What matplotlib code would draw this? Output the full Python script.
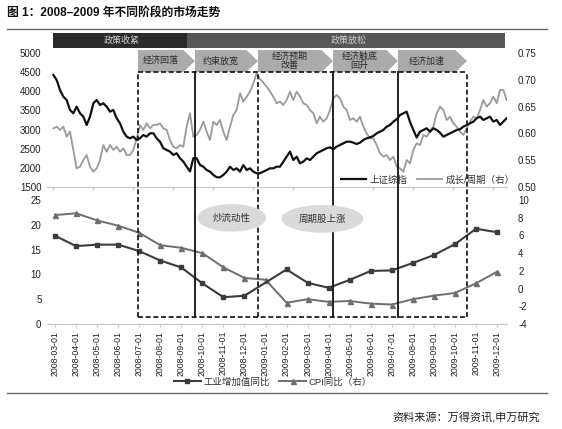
import numpy as np
import matplotlib
matplotlib.use("Agg")
import matplotlib.pyplot as plt
from matplotlib import transforms
from matplotlib.lines import Line2D
from matplotlib.patches import Polygon, Rectangle

plt.rcParams['font.family'] = ['Liberation Sans', 'Noto Sans CJK SC', 'DejaVu Sans']
plt.rcParams['axes.unicode_minus'] = False

# ---- data: top panel (~5 days apart) ----
SSE = [4431, 4300, 4037, 3862, 3775, 3513, 3426, 3600, 3426, 3338,
       3119, 3338, 3688, 3775, 3644, 3688, 3600, 3468, 3513, 3295,
       3164, 2944, 2813, 2770, 2813, 2726, 2770, 2857, 2813, 2901,
       2901, 2770, 2681, 2508, 2464, 2420, 2333, 2377, 2245, 2157,
       2025, 1900, 2250, 2245,
       2070, 2025, 1939, 1895, 1808, 1747, 1747, 1808, 1895, 2025,
       1939, 1982, 1895, 2070, 1939, 1982, 1895, 1852, 1852, 1895,
       1939, 1982, 1982, 2025, 2025, 2157, 2288, 2420, 2200, 2288,
       2114, 2157, 2245, 2200, 2288, 2377, 2420, 2464, 2508, 2534,
       2482, 2551, 2595, 2639, 2681,
       2681, 2655, 2620, 2655, 2726, 2770, 2795, 2830, 2901, 2944,
       2988, 3075, 3119, 3206, 3268, 3381, 3426, 3468, 3200, 2990,
       2790, 2944, 2988, 3032, 2944, 3032, 2988, 2918, 2813, 2857,
       2901, 2944, 2988, 3006, 3075, 3119, 3164, 3206, 3295, 3338,
       3251, 3295, 3338, 3206, 3251, 3119, 3206, 3295]

GROWTH_CYCLE = [.6094, .6125, .6063, .6125, .5937, .6031, .5688, .5344, .5375, .5500,
                .5594, .5375, .5281, .5344, .5500, .5781, .5656, .5781, .5688, .5750,
                .5656, .5719, .5594, .5594, .5688, .5906, .6156, .6063, .6188, .6094,
                .6156, .6156, .6188, .6094, .6063, .5875, .5750, .5719, .5781, .5750,
                .6125, .6375, .5937, .5969,
                .6063, .6219, .6031, .5875, .6219, .6156, .6250, .6031, .5875, .6125,
                .6344, .6438, .6750, .6594, .6688, .6781, .6938, .7125, .7020, .6950,
                .6875, .6781, .6688, .6563, .6594, .6531, .6625, .6781, .6625, .6781,
                .6688, .6563, .6531, .6438, .6375, .6188, .6313, .6219, .6281, .6438,
                .6656, .6719, .6656, .6500, .6438,
                .6250, .6281, .6219, .6313, .6125, .6000, .5906, .5906, .5781, .5625,
                .5563, .5594, .5500, .5563, .5375, .5344, .5281, .5500, .5438, .5688,
                .5813, .5781, .5969, .5937, .6031, .6125, .6375, .6500, .6438, .6250,
                .6313, .6188, .6125, .6031, .5969, .6094, .6219, .6313, .6281, .6438,
                .6625, .6500, .6563, .6688, .6563, .6813, .6813, .6625]

# ---- data: bottom panel (monthly) ----
MONTHS = ["2008-03-01", "2008-04-01", "2008-05-01", "2008-06-01", "2008-07-01",
          "2008-08-01", "2008-09-01", "2008-10-01", "2008-11-01", "2008-12-01",
          "2009-01-01", "2009-02-01", "2009-03-01", "2009-04-01", "2009-05-01",
          "2009-06-01", "2009-07-01", "2009-08-01", "2009-09-01", "2009-10-01",
          "2009-11-01", "2009-12-01"]
IND_VALUE_ADDED = [17.8, 15.7, 16.0, 16.0, 14.7, 12.8, 11.4, 8.2, 5.4, 5.7,
                   np.nan, 11.0, 8.3, 7.3, 8.9, 10.7, 10.8, 12.3, 13.9, 16.1, 19.2, 18.5]
CPI = [8.3, 8.5, 7.7, 7.1, 6.3, 4.9, 4.6, 4.0, 2.4, 1.2, 1.0,
       -1.6, -1.2, -1.5, -1.4, -1.7, -1.8, -1.2, -0.8, -0.5, 0.6, 1.9]

POLICY = ["政策收紧", "政策放松"]
STAGES = ["经济回落", "约束放宽", "经济预期\n改善", "经济触底\n回升", "经济加速"]
THEMES = ["炒流动性", "周期股上涨"]

# stage edges in month units of the lower panel
STAGE_EDGES = [3.94, 6.65, 9.64, 13.21, 16.29, 19.57]

W, H = 562, 429
def fx(px):
    return px / W
def fy(py):
    return 1 - py / H

fig = plt.figure(figsize=(W / 100, H / 100), dpi=100)
fig.patch.set_facecolor("white")

TXT = "#222222"
AX_COL = "#c8c8c8"

def style_axes(a, ar):
    for s in ["top", "left", "right"]:
        a.spines[s].set_visible(False)
        ar.spines[s].set_visible(False)
    ar.spines["bottom"].set_visible(False)
    a.spines["bottom"].set_color(AX_COL)
    a.tick_params(axis="y", length=0, pad=4, labelsize=7, colors=TXT)
    ar.tick_params(axis="y", length=0, pad=8, labelsize=7, colors=TXT)
    a.patch.set_alpha(0)
    ar.patch.set_alpha(0)

# ---- top panel ----
ax1 = fig.add_axes([fx(47), fy(186.7), fx(507) - fx(47), (186.7 - 53.3) / H])
ax1r = ax1.twinx()
style_axes(ax1, ax1r)
k = np.arange(len(SSE))
l_sse, = ax1.plot(k, SSE, color="#111111", lw=1.6, zorder=3)
l_gc, = ax1r.plot(np.arange(len(GROWTH_CYCLE)), GROWTH_CYCLE, color="#9a9a9a", lw=1.3)
ax1r.set_zorder(1)
ax1.set_zorder(2)
ax1.set_xlim(-1.9, 136.1)
ax1.set_ylim(1500, 5000)
ax1.set_yticks(np.arange(1500, 5001, 500))
ax1r.set_ylim(0.50, 0.75)
ax1r.set_yticks(np.arange(0.50, 0.751, 0.05))
ax1r.set_yticklabels([f"{v:.2f}" for v in np.arange(0.50, 0.751, 0.05)])
ax1.set_xticks(np.arange(0, 137, 12))
ax1.tick_params(axis="x", length=2, color=AX_COL, labelbottom=False)

fig.legend([l_sse, l_gc], ["上证综指", "成长/周期（右）"], loc="center",
           bbox_to_anchor=(fx(428), fy(180)), ncol=2, frameon=False,
           fontsize=6.8, handlelength=2.6, columnspacing=1.0, handletextpad=0.4,
           labelcolor="#333333")

# ---- bottom panel ----
ax2 = fig.add_axes([fx(47), fy(324), fx(507) - fx(47), (324 - 200) / H])
ax2r = ax2.twinx()
style_axes(ax2, ax2r)
x = np.arange(len(MONTHS))
iva = np.array(IND_VALUE_ADDED)
ok = ~np.isnan(iva)
ax2.plot(x[ok], iva[ok], color="#3c3c3c", lw=1.5, marker="s", ms=3.2, zorder=3)
ax2r.plot(x, CPI, color="#6e6e6e", lw=1.4, marker="^", ms=3.6)
ax2.set_zorder(2)
ax2r.set_zorder(1)
ax2.set_xlim(-0.38, 21.47)
ax2.set_ylim(0, 25)
ax2.set_yticks(np.arange(0, 26, 5))
ax2r.set_ylim(-4, 10)
ax2r.set_yticks(np.arange(-4, 11, 2))
ax2.set_xticks(x)
ax2.set_xticklabels(MONTHS, rotation=90, fontsize=6.3, color=TXT)
ax2.tick_params(axis="x", length=2, color=AX_COL, pad=3)

leg_ind = Line2D([], [], color="#3c3c3c", lw=1.5, marker="s", ms=3.2)
leg_cpi = Line2D([], [], color="#6e6e6e", lw=1.4, marker="^", ms=3.6)
fig.legend([leg_ind, leg_cpi], ["工业增加值同比", "CPI同比（右）"], loc="center",
           bbox_to_anchor=(fx(273), fy(382)), ncol=2, frameon=False,
           fontsize=6.8, handlelength=2.8, columnspacing=1.0, handletextpad=0.3,
           labelcolor="#333333")

# ---- stage frame, arrows and policy banner (x in lower-panel months) ----
bt = transforms.blended_transform_factory(ax2.transData, fig.transFigure)
y_top, y_bot = fy(72), fy(317)
dash = (0, (3, 1.6))
for xe in (STAGE_EDGES[0], STAGE_EDGES[2], STAGE_EDGES[5]):
    fig.add_artist(Line2D([xe, xe], [y_bot, y_top], transform=bt, color="#111111",
                          lw=1.2, linestyle=dash, zorder=5))
for yy in (y_top, y_bot):
    fig.add_artist(Line2D([STAGE_EDGES[0], STAGE_EDGES[5]], [yy, yy], transform=bt,
                          color="#111111", lw=1.2, linestyle=dash, zorder=5))
for xe in (STAGE_EDGES[1], STAGE_EDGES[3], STAGE_EDGES[4]):
    fig.add_artist(Line2D([xe, xe], [y_bot, y_top], transform=bt, color="#111111",
                          lw=1.3, zorder=5))

# theme bubbles, drawn over the stage lines
bub = dict(boxstyle="ellipse,pad=0.55", fc="#dadada", ec="none")
bt2 = transforms.blended_transform_factory(ax2.transData, ax2.transData)
fig.text(8.4, 21.4, THEMES[0], transform=ax2.transData, ha="center", va="center",
         fontsize=6.8, color="#333333", bbox=bub, zorder=7)
fig.text(12.7, 21.2, THEMES[1], transform=ax2.transData, ha="center", va="center",
         fontsize=6.8, color="#333333", bbox=bub, zorder=7)

a_top, a_bot = fy(50), fy(72)
a_mid = (a_top + a_bot) / 2
tip = 0.55
for i, lab in enumerate(STAGES):
    x0, x1 = STAGE_EDGES[i], STAGE_EDGES[i + 1]
    poly = Polygon([(x0, a_bot), (x1 - tip, a_bot), (x1, a_mid), (x1 - tip, a_top), (x0, a_top)],
                   closed=True, transform=bt, fc="#ababab", ec="none", zorder=4)
    fig.add_artist(poly)
    fig.text((x0 + x1 - tip) / 2, a_mid, lab, transform=bt, ha="center", va="center",
             fontsize=6.5, color="#2a2a2a", linespacing=1.05, zorder=6)

b_top, b_bot = fy(33.3), fy(48)
fig.add_artist(Rectangle((-0.1, b_bot), 6.37, b_top - b_bot, transform=bt,
                         fc="#2a2a2a", ec="none"))
fig.add_artist(Rectangle((6.27, b_bot), 15.11, b_top - b_bot, transform=bt,
                         fc="#575757", ec="none"))
fig.text(3.17, (b_top + b_bot) / 2, POLICY[0], transform=bt, ha="center", va="center",
         fontsize=6.5, color="#cfcfcf")
fig.text(13.97, (b_top + b_bot) / 2, POLICY[1], transform=bt, ha="center", va="center",
         fontsize=6.5, color="#cfcfcf")

# ---- title, rules and source ----
fig.text(fx(7), fy(13), "图 1：2008–2009 年不同阶段的市场走势", fontsize=8.5,
         fontweight="bold", va="center", ha="left", color="#111111")
fig.add_artist(Line2D([fx(7), fx(547)], [fy(28.5), fy(28.5)], color="#666666", lw=1.0))
fig.add_artist(Line2D([fx(7), fx(547)], [fy(392.7), fy(392.7)], color="#666666", lw=1.0))
fig.text(fx(540), fy(416.7), "资料来源：万得资讯,申万研究", fontsize=8,
         ha="right", va="center", color="#222222")

fig.savefig("out.png", dpi=100)
